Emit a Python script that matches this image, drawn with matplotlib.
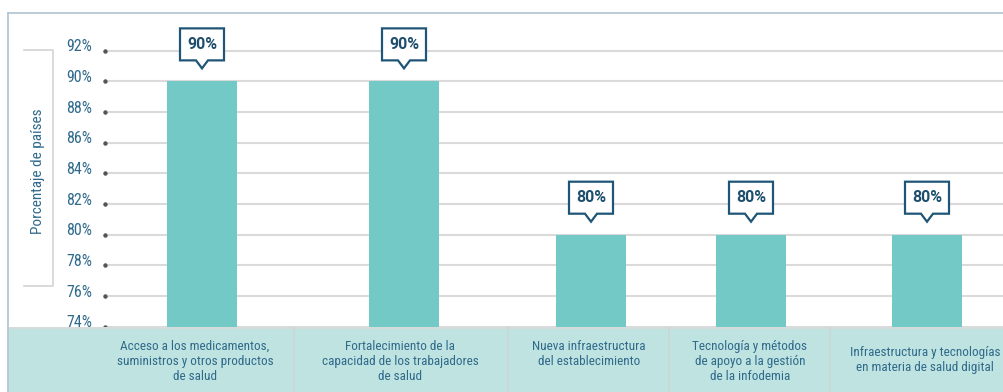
import matplotlib.pyplot as plt
import matplotlib.transforms as mtransforms
from matplotlib.patches import Polygon, Rectangle

# Datos
categorias = [
    'Acceso a los medicamentos,\nsuministros y otros productos\nde salud',
    'Fortalecimiento de la\ncapacidad de los trabajadores\nde salud',
    'Nueva infraestructura\ndel establecimiento',
    'Tecnología y métodos\nde apoyo a la gestión\nde la infodemia',
    'Infraestructura y tecnologías\nen materia de salud digital',
]
porcentajes = [90, 90, 80, 80, 80]
y_ticks = [74, 76, 78, 80, 82, 84, 86, 88, 90, 92]
y_titulo = 'Porcentaje de países'

# Disposición (en píxeles de la figura)
W, H = 1004, 392
centros_barra = [202, 404, 591, 751, 927]
centros_texto = [195, 400, 589, 750, 925]
separadores = [294, 508, 669, 830]
ancho_barra = 70
y_base = 326.7          # posición del 74 %
px_por_punto = 15.333

C_BARRA = '#72C9C6'
C_BANDA = '#BFE3E0'
C_TEXTO = '#2F6A8B'
C_CALLOUT = '#1F5677'
C_GRID = '#DADADA'

FUENTE = ['Roboto Condensed', 'DejaVu Sans']

fig = plt.figure(figsize=(W / 100, H / 100), dpi=100)


def ejes_px(x0, y0, x1, y1):
    return fig.add_axes([x0 / W, 1 - y1 / H, (x1 - x0) / W, (y1 - y0) / H])


# Eje principal
y_tope = 13
ax = ejes_px(8, y_tope, W, y_base)
ax.set_xlim(8, W)
ax.set_ylim(y_ticks[0], y_ticks[0] + (y_base - y_tope) / px_por_punto)
ax.axis('off')

for t in y_ticks:
    ax.hlines(t, 108, W, color=C_GRID, lw=1.5, zorder=1)
    ax.plot([105], [t], marker='o', ms=2.2, color='#555555', zorder=2, clip_on=False)
    ax.annotate(f'{t}%', (92, t), xytext=(0, 4), textcoords='offset pixels',
                ha='right', va='center', fontsize=11.5, color=C_TEXTO,
                family=FUENTE, annotation_clip=False)

ax.bar(centros_barra, [v - y_ticks[0] for v in porcentajes], bottom=y_ticks[0],
       width=ancho_barra, color=C_BARRA, zorder=3)

# Etiquetas tipo globo sobre las barras
globo = [(-22, 21), (-22, 53), (22, 53), (22, 21), (6, 21), (0, 13), (-6, 21)]
for x, v in zip(centros_barra, porcentajes):
    tr = mtransforms.Affine2D() + mtransforms.ScaledTranslation(x, v, ax.transData)
    ax.add_patch(Polygon(globo, closed=True, transform=tr, facecolor='white',
                         edgecolor=C_CALLOUT, lw=1.6, zorder=5, clip_on=False))
    ax.text(0, 37, f'{v}%', transform=tr, ha='center', va='center',
            fontsize=11.5, fontweight='bold', color='#1D4E6D', family='Roboto',
            zorder=6)

# Marco exterior
fig.add_artist(plt.Line2D([8 / W, 1], [1 - y_tope / H] * 2, color='#B5C7D6', lw=1.3))
fig.add_artist(plt.Line2D([8 / W] * 2, [0, 1 - y_tope / H], color='#B5C7D6', lw=1.3))

# Título del eje en su corchete
fig.add_artist(plt.Line2D(
    [24 / W, 53 / W, 53 / W, 24 / W],
    [1 - 50 / H, 1 - 50 / H, 1 - 286 / H, 1 - 286 / H],
    color='#D3D3D3', lw=1.2))
fig.text(38 / W, 1 - 171 / H, y_titulo, rotation=90, ha='center', va='center',
         fontsize=11, color=C_TEXTO, family=FUENTE)

# Banda de categorías
bx = ejes_px(8, y_base, W, H)
bx.set_xlim(8, W)
bx.set_ylim(H, y_base)
bx.axis('off')
bx.add_patch(Rectangle((8, y_base), W - 8, H - y_base, facecolor=C_BANDA,
                       edgecolor='none'))
bx.hlines(y_base + 0.8, 8, W, color='#D5DCDB', lw=1.5)
for s in separadores:
    bx.vlines(s, y_base, H, color='#CDD5D4', lw=1.2)
for i, (x, cat) in enumerate(zip(centros_texto, categorias)):
    n = cat.count('\n') + 1
    y = 340 if i < 4 else 362 - 8 * n
    bx.text(x, y, cat, ha='center', va='top', fontsize=9.5, color=C_TEXTO,
            family=FUENTE, linespacing=1.22)

fig.savefig('out.png', dpi=100)
